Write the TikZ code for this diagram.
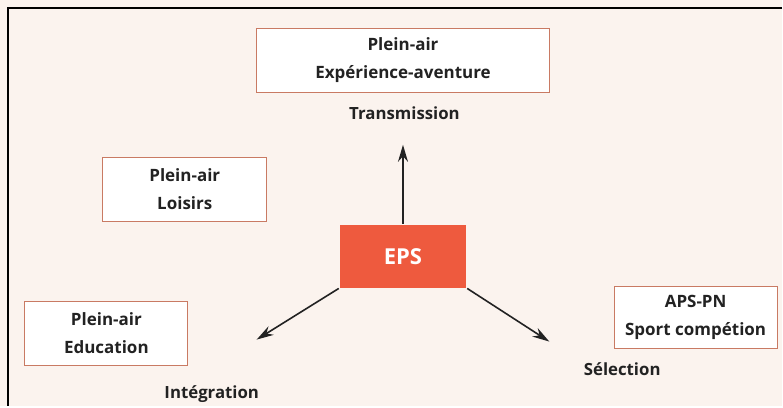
\documentclass[tikz,border=0pt]{standalone}
\usepackage{fontspec}
\setmainfont{Open Sans}
\usetikzlibrary{arrows.meta, positioning}
\definecolor{paper}{HTML}{FBF3EE}
\definecolor{boxline}{HTML}{C97A63}
\definecolor{epsred}{HTML}{EE5A3E}
\definecolor{ink}{HTML}{222222}
\begin{document}
\begin{tikzpicture}[x=1pt,y=-1pt,->,>={Stealth[length=17pt,width=10pt]},line width=1.6pt,draw=ink]
		\tikzstyle{plein}=[draw=boxline,fill=white,line width=1pt,inner sep=0pt,minimum height=64pt,align=center,text=ink,font=\bfseries\fontsize{17}{28}\selectfont]
		\tikzstyle{role}=[text=ink,font=\bfseries\fontsize{16.8}{18}\selectfont]
		
		% fond et cadre
		\fill[paper] (0,0) rectangle (783,407);
		\draw[-,line width=2pt,black] (783,8) -- (8,8) -- (8,407);
		
		\node[fill=epsred,inner sep=0pt,minimum width=127pt,minimum height=63pt,text=white,font=\bfseries\fontsize{22}{24}\selectfont] (eps) at (403.5,256.5) {EPS};
		
		\node[plein,minimum width=293pt] (aventure) at (403.5,60.5) {Plein-air\\Expérience-aventure};
		\node[plein,minimum width=164pt] (loisirs)  at (185,189.5)  {Plein-air\\Loisirs};
		\node[plein,minimum width=163pt] (education) at (106.5,333.5) {Plein-air\\Education};
		\node[plein,minimum width=163pt,minimum height=62pt] (competition) at (696.5,318) {APS-PN\\Sport compétion};
		
		\node[role] (transmission) at (405,113) {Transmission};
		\node[role] (integration)  at (212,395) {Intégration};
		\node[role] (selection)    at (623,370) {Sélection};
		
		\coordinate (haut)   at (403.5,145);
		\coordinate (gauche) at (257,340);
		\coordinate (droite) at (550,342);
		
		\path (eps.north) edge (haut)
		(eps.south west) edge (gauche)
		(eps.south east) edge (droite);
	\end{tikzpicture}
\end{document}
